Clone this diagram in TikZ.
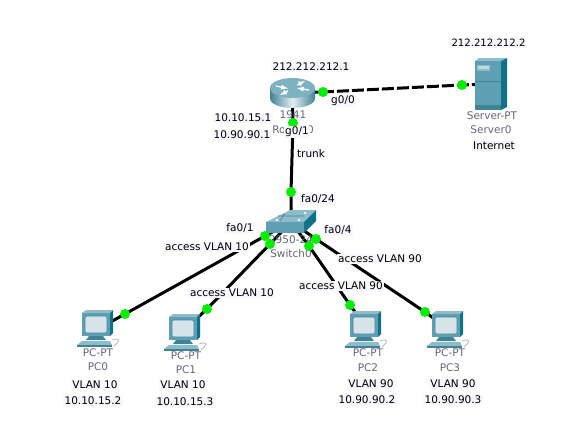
\documentclass[tikz,border=0pt]{standalone}
\usepackage{fontspec}
\setmainfont{DejaVu Sans}
\definecolor{linkdot}{HTML}{00EE00}
\definecolor{tagbg}{HTML}{F7F7FD}
\definecolor{devgray}{HTML}{66667A}
\definecolor{tealA}{HTML}{5E9FB3}
\definecolor{tealB}{HTML}{8FBCC9}
\definecolor{tealC}{HTML}{0F7288}
\definecolor{tealD}{HTML}{3F8397}
\definecolor{screenc}{HTML}{D6E4EA}
\tikzset{
  cable/.style={line width=3pt,black},
  wancable/.style={cable,dash pattern=on 12pt off 3pt},
  portdot/.style={circle,inner sep=0pt,minimum size=10pt},
  tag/.style={fill=tagbg,inner sep=1.2pt,text=black,font=\fontsize{10.5}{12}\selectfont},
  devlabel/.style={inner sep=0pt,text=devgray,font=\fontsize{10.5}{12}\selectfont},
  anchorpt/.style={inner sep=0pt,minimum size=0pt}
}
\newcommand{\pcglyph}[2]{%
  \begin{scope}[shift={(#1,#2)}]
    \fill[tealB] (5,3) -- (9,0) -- (36,0) -- (33,3) -- cycle;
    \fill[tealC] (33,3) -- (36,0) -- (36,23) -- (33,26) -- cycle;
    \fill[tealA] (5,3) rectangle (33,26);
    \fill[screenc,draw=tealD,line width=.6pt,rounded corners=1.5pt] (8,6) rectangle (30,23);
    \fill[tealD] (12,26) -- (26,26) -- (29,30) -- (9,30) -- cycle;
    \fill[tealB] (5,31) -- (33,31) -- (35,35) -- (0,35) -- cycle;
    \fill[tealD] (0,35) rectangle (35,37);
    \draw[gray!55,line width=.8pt] (35,30) .. controls (40,28) and (43,29) .. (41,32) .. controls (40,34) and (38,34) .. (37,36);
  \end{scope}}
\begin{document}
\begin{tikzpicture}[x=1pt,y=-1pt]
\useasboundingbox (0,0) rectangle (576,431);
\fill[white] (0,0) rectangle (576,431);
% devices' link points
\node[anchorpt] (router) at (292,93) {};
\node[anchorpt] (server) at (487,84) {};
\node[anchorpt] (switch) at (291,222) {};
\node[anchorpt] (pcA) at (105,325) {};
\node[anchorpt] (pcB) at (195,320) {};
\node[anchorpt] (pcC) at (358,316) {};
\node[anchorpt] (pcD) at (436,320) {};
% port dots
\node[portdot] (pR) at (323,92) {};
\node[portdot] (pS) at (462,85) {};
\node[portdot] (pRd) at (293,123) {};
\node[portdot] (pSu) at (291,192) {};
\node[portdot] (pSa) at (265,236) {};
\node[portdot] (pSb) at (270,244) {};
\node[portdot] (pSc) at (309,246) {};
\node[portdot] (pSd) at (316,239) {};
\node[portdot] (pA) at (125,314) {};
\node[portdot] (pB) at (207,309) {};
\node[portdot] (pC) at (350,305) {};
\node[portdot] (pD) at (425,312) {};
% cables
\draw[wancable] (router.center) -- (pR.center) -- (pS.center) -- (server.center);
\draw[cable] (router.center) -- (pRd.center) -- (pSu.center) -- (switch.center);
\draw[cable] (switch.center) -- (pSa.center) -- (pA.center) -- (pcA.center);
\draw[cable] (switch.center) -- (pSb.center) -- (pB.center) -- (pcB.center);
\draw[cable] (switch.center) -- (pSc.center) -- (pC.center) -- (pcC.center);
\draw[cable] (switch.center) -- (pSd.center) -- (pD.center) -- (pcD.center);
% router icon
\shade[left color=tealD,right color=tealD,middle color=white!75!tealB] (270,88) -- (270,98) .. controls (270,111.3) and (315,111.3) .. (315,98) -- (315,88) -- cycle;
\fill[tealA!80!white] (292.5,88) ellipse[x radius=22.5,y radius=10];
\draw[white,line width=1.3pt,-latex] (276,86) -- (288,88.5);
\draw[white,line width=1.3pt,-latex] (309,90) -- (297,88);
\draw[white,line width=1.3pt,-latex] (297,85) -- (305,81);
\draw[white,line width=1.3pt,-latex] (288,91) -- (280,95);
% server icon
\fill[tealB] (475,61) -- (479,58) -- (507,58) -- (501,61) -- cycle;
\fill[tealC] (501,61) -- (507,58) -- (507,107) -- (501,110) -- cycle;
\fill[tealA] (475,61) rectangle (501,110);
\fill[tealB] (477,65) rectangle (490,71);
\fill[screenc!70!tealB] (478,66) rectangle (489,69);
\draw[tealD,line width=.5pt] (475,81) -- (501,81);
\fill[tealD] (475,105) rectangle (501,110);
% switch icon
\fill[tealB] (266,222) -- (290,210) -- (316,210) -- (304,222) -- cycle;
\fill[tealC] (304,222) -- (316,210) -- (316,221) -- (304,233) -- cycle;
\fill[tealA] (266,222) rectangle (304,233);
\draw[tealD,line width=.6pt] (278,216) -- (304,216) (286,211.5) -- (280,221);
\foreach \sx/\sy in {277/220,299/220,285/212,305/213} \fill[white] (\sx,\sy) ellipse[x radius=1.6,y radius=1];
% PCs
\pcglyph{77}{310}
\pcglyph{164}{314}
\pcglyph{345}{311}
\pcglyph{427}{311}
% grey device labels
\node[devlabel] (lr1) at (293,115) {1941};
\node[devlabel] (lr2) at (293,130) {Router0};
\node[devlabel] (ls1) at (492,116) {Server-PT};
\node[devlabel] (ls2) at (491,130) {Server0};
\node[devlabel] (lw1) at (291,240) {2950-24};
\node[devlabel] (lw2) at (291,254) {Switch0};
\node[devlabel] (l0a) at (98,353) {PC-PT};
\node[devlabel] (l0b) at (98,367) {PC0};
\node[devlabel] (l1a) at (186,356) {PC-PT};
\node[devlabel] (l1b) at (186,370) {PC1};
\node[devlabel] (l2a) at (368,353) {PC-PT};
\node[devlabel] (l2b) at (368,368) {PC2};
\node[devlabel] (l3a) at (450,353) {PC-PT};
\node[devlabel] (l3b) at (450,368) {PC3};
% visible dots
\foreach \d in {pR,pS,pRd,pSu,pSa,pSb,pSc,pSd,pA,pB,pC,pD}
  \fill[linkdot] (\d.center) circle[radius=5];
% tags
\node[tag] (t1) at (311,67) {212.212.212.1};
\node[tag,font=\fontsize{10.1}{12}\selectfont] (t2) at (488.5,43) {212.212.212.2};
\node[tag] (t3) at (243,118) {10.10.15.1};
\node[tag] (t4) at (242,135) {10.90.90.1};
\node[tag] (t5) at (297,132) {g0/1};
\node[tag] (t6) at (343,101) {g0/0};
\node[tag] (t7) at (311,154) {trunk};
\node[tag] (t8) at (494,146) {Internet};
\node[tag] (t9) at (318,199) {fa0/24};
\node[tag] (t10) at (240,228) {fa0/1};
\node[tag] (t11) at (338,230) {fa0/4};
\node[tag] (t12) at (207,247) {access VLAN 10};
\node[tag] (t13) at (232,293) {access VLAN 10};
\node[tag] (t14) at (380,259) {access VLAN 90};
\node[tag] (t15) at (341,286) {access VLAN 90};
\node[tag] (t16) at (95,385) {VLAN 10};
\node[tag] (t17) at (93,401) {10.10.15.2};
\node[tag] (t18) at (183,385) {VLAN 10};
\node[tag] (t19) at (185,402) {10.10.15.3};
\node[tag] (t20) at (371,384) {VLAN 90};
\node[tag] (t21) at (367,400) {10.90.90.2};
\node[tag] (t22) at (453,384) {VLAN 90};
\node[tag] (t23) at (453,400) {10.90.90.3};
\end{tikzpicture}
\end{document}
